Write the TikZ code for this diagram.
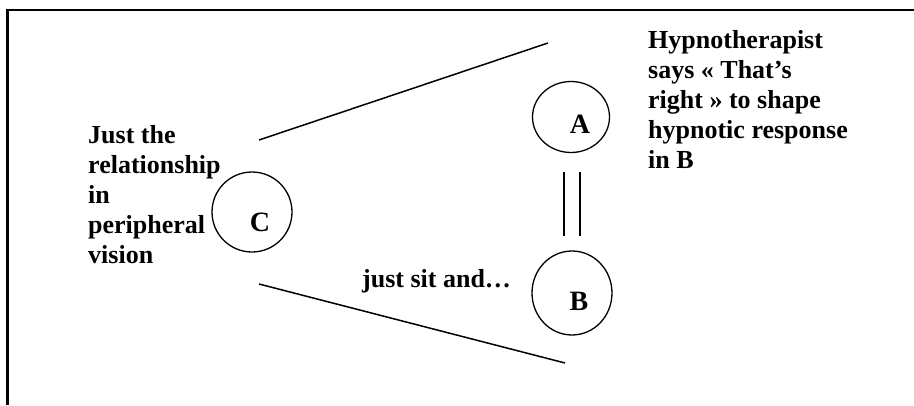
\documentclass[tikz,border=0pt]{standalone}
\usetikzlibrary{shapes.geometric}
\usepackage{fontspec}
\setmainfont{Liberation Serif}
\begin{document}
\begin{tikzpicture}[x=1pt,y=-1pt,
  lbl/.style={font=\fontsize{26}{30}\selectfont\bfseries, inner sep=0pt, align=left, anchor=base west},
  letter/.style={font=\fontsize{28}{30}\selectfont\bfseries, inner sep=0pt, anchor=base},
  ring/.style={draw, line width=1.3pt, ellipse, inner sep=0pt},
  link/.style={line width=1.5pt}]
\useasboundingbox (0,0) rectangle (914,405);
% frame: top and left edges only
\coordinate (fl) at (7.5,405);
\coordinate (ftl) at (7.5,10);
\coordinate (ftr) at (914,10);
\draw[line width=2.2pt] (fl) -- (ftl) -- (ftr);

% circles
\node[ring, minimum width=80pt, minimum height=80pt] (C) at (252,212) {};
\node[ring, minimum width=77pt, minimum height=71pt] (A) at (571,117) {};
\node[ring, minimum width=80pt, minimum height=84pt] (B) at (572,293) {};
\node[letter] (Ct) at (260,231) {C};
\node[letter] (At) at (580,133) {A};
\node[letter] (Bt) at (579,310) {B};

% double link between A and B
\coordinate (d1) at (564,172);
\coordinate (d2) at (564,236);
\coordinate (d3) at (580,172);
\coordinate (d4) at (580,236);
\draw[line width=1.3pt] (d1) -- (d2) (d3) -- (d4);

% the two lines from C
\coordinate (u1) at (259,140);
\coordinate (u2) at (548,43);
\coordinate (l1) at (259,284);
\coordinate (l2) at (565,363);
\draw[link] (u1) -- (u2) (l1) -- (l2);

% texts (anchored at the baseline of their last line)
\node[lbl] (tc) at (88,263) {Just the\\relationship\\in\\peripheral\\vision};
\node[lbl] (tr) at (648,168) {Hypnotherapist\\says « That’s\\right » to shape\\hypnotic response\\in B};
\node[lbl] (tb) at (362,287) {just sit and…};
\end{tikzpicture}
\end{document}
